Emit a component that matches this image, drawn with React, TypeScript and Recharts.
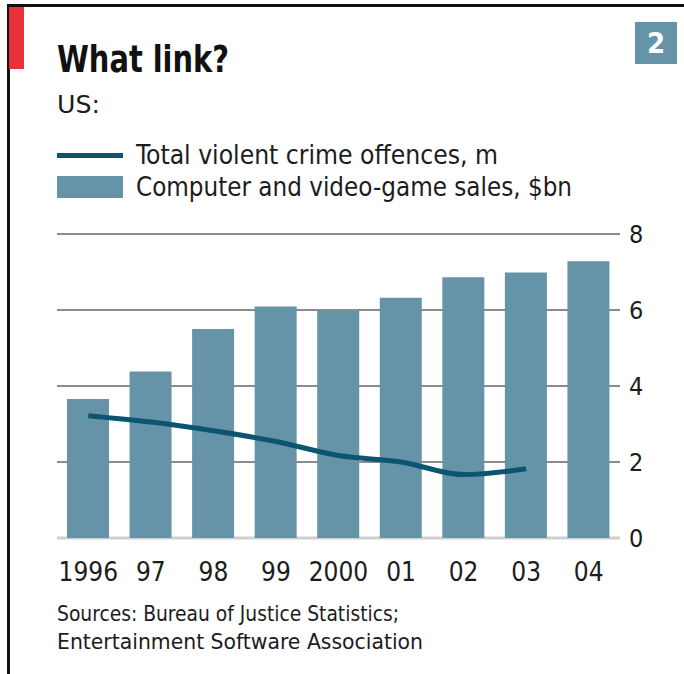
import React from 'react';
import {
  ComposedChart,
  Bar,
  Line,
  XAxis,
  YAxis,
  CartesianGrid,
} from 'recharts';

const years = ['1996', '97', '98', '99', '2000', '01', '02', '03', '04'];
const gameSales = [3.66, 4.38, 5.5, 6.09, 5.98, 6.32, 6.86, 6.99, 7.28];
const violentCrime = [3.22, 3.05, 2.82, 2.54, 2.17, 2.0, 1.67, 1.82, null];
const yTicks = [0, 2, 4, 6, 8];

const data = years.map((year, i) => ({
  year,
  sales: gameSales[i],
  crime: violentCrime[i],
}));

const FONT = '"DejaVu Sans Condensed", "DejaVu Sans", sans-serif';
const BAR = '#6593a8';
const LINE = '#0c5570';
const TEXT = '#1c1c1c';

const gridLine = (p: any) => {
  const bottom = Math.abs(p.y1 - (p.y + p.height)) < 1;
  return (
    <line
      key={p.key}
      x1={p.x1}
      x2={p.x2}
      y1={p.y1}
      y2={p.y2}
      stroke={bottom ? '#cfcfcf' : '#8c8c8c'}
      strokeWidth={bottom ? 3 : 2}
    />
  );
};

export default function App() {
  return (
    <div
      style={{
        position: 'absolute',
        left: 0,
        top: 0,
        width: 684,
        height: 674,
        background: '#fff',
        overflow: 'hidden',
        fontFamily: FONT,
      }}
    >
      {/* frame */}
      <div style={{ position: 'absolute', left: 7, top: 4, width: 677, height: 3, background: '#111' }} />
      <div style={{ position: 'absolute', left: 7, top: 4, width: 3, height: 670, background: '#111' }} />
      <div style={{ position: 'absolute', left: 9, top: 7, width: 15, height: 62, background: '#e8313a' }} />
      <div
        style={{
          position: 'absolute',
          left: 635,
          top: 22,
          width: 42,
          height: 42,
          background: BAR,
          color: '#fff',
          fontSize: 29,
          fontWeight: 'bold',
          lineHeight: '42px',
          textAlign: 'center',
        }}
      >
        2
      </div>

      <svg width={684} height={674} style={{ position: 'absolute', left: 0, top: 0 }}>
        <text x={57} y={72} fontSize={38} fontWeight="bold" fill="#111" textLength={172} lengthAdjust="spacingAndGlyphs">
          What link?
        </text>
        <text x={57} y={113} fontSize={25} fill={TEXT} textLength={43} lengthAdjust="spacingAndGlyphs">
          US:
        </text>
        <rect x={57} y={153} width={66} height={5} fill={LINE} />
        <text x={136} y={164} fontSize={27} fill={TEXT} textLength={362} lengthAdjust="spacingAndGlyphs">
          Total violent crime offences, m
        </text>
        <rect x={57} y={176} width={66} height={22} fill={BAR} />
        <text x={136} y={196} fontSize={27} fill={TEXT} textLength={436} lengthAdjust="spacingAndGlyphs">
          Computer and video-game sales, $bn
        </text>
        <text x={57} y={621} fontSize={22} fill={TEXT} textLength={342} lengthAdjust="spacingAndGlyphs">
          Sources: Bureau of Justice Statistics;
        </text>
        <text x={57} y={649} fontSize={22} fill={TEXT} textLength={366} lengthAdjust="spacingAndGlyphs">
          Entertainment Software Association
        </text>
      </svg>

      <div style={{ position: 'absolute', left: 0, top: 220 }}>
        <ComposedChart
          width={684}
          height={380}
          data={data}
          margin={{ top: 14, right: 0, bottom: 12, left: 57 }}
        >
          <CartesianGrid vertical={false} horizontal={gridLine} />
          <XAxis
            dataKey="year"
            height={50}
            axisLine={false}
            tickLine={false}
            tickSize={0}
            tickMargin={25}
            interval={0}
            tick={{ fontSize: 26, fill: TEXT, fontFamily: FONT }}
          />
          <YAxis
            orientation="right"
            width={64}
            domain={[0, 8]}
            ticks={yTicks}
            axisLine={false}
            tickLine={false}
            tickSize={0}
            tickMargin={9}
            tick={{ fontSize: 25, fill: TEXT, fontFamily: FONT }}
          />
          <Bar dataKey="sales" fill={BAR} barSize={42} isAnimationActive={false} />
          <Line
            dataKey="crime"
            type="monotone"
            stroke={LINE}
            strokeWidth={5}
            dot={false}
            activeDot={false}
            isAnimationActive={false}
          />
        </ComposedChart>
      </div>
    </div>
  );
}
